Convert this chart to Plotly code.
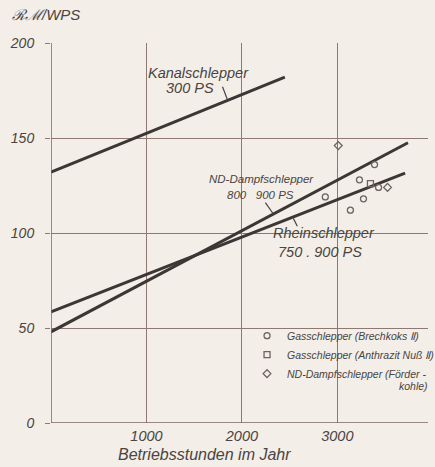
import plotly.graph_objects as go

# Operating hours per year (x) vs. cost in RM per WPS (y)
kanal_x = [0, 2450]
kanal_y = [132, 182]
nd_x = [0, 3740]
nd_y = [48, 147.5]
rhein_x = [0, 3710]
rhein_y = [58.5, 131.5]

brechkoks_x = [3390, 3232, 3432, 2874, 3274, 3137]
brechkoks_y = [136, 128, 124, 119, 118, 112]
anthrazit_x = [3347]
anthrazit_y = [126]
foerderkohle_x = [3010, 3526]
foerderkohle_y = [146, 124]

x_ticks = [1000, 2000, 3000]
y_ticks = [0, 50, 100, 150, 200]

BG = "#f3eee7"
INK = "#3b3735"
GRID = "#8f7873"
TXT = "#4a4442"
MARK = "#6c6461"
FONT = "Liberation Sans, Arial, sans-serif"
LEG_SIZE = 10.5

fig = go.Figure()

for xs, ys in [(kanal_x, kanal_y), (nd_x, nd_y), (rhein_x, rhein_y)]:
    fig.add_trace(go.Scatter(x=xs, y=ys, mode="lines", showlegend=False,
                             line=dict(color=INK, width=3), hoverinfo="skip"))

fig.add_trace(go.Scatter(
    x=brechkoks_x, y=brechkoks_y, mode="markers",
    name="Gasschlepper (Brechkoks Ⅱ)",
    marker=dict(symbol="circle-open", size=6, color=MARK, line=dict(width=1.3, color=MARK))))
fig.add_trace(go.Scatter(
    x=anthrazit_x, y=anthrazit_y, mode="markers",
    name="Gasschlepper (Anthrazit Nuß Ⅱ)",
    marker=dict(symbol="square-open", size=6, color=MARK, line=dict(width=1.3, color=MARK))))
fig.add_trace(go.Scatter(
    x=foerderkohle_x, y=foerderkohle_y, mode="markers",
    name="ND-Dampfschlepper (Förder -",
    marker=dict(symbol="diamond-open", size=6, color=MARK, line=dict(width=1.3, color=MARK))))

# continuation line of the last legend entry, set flush right
fig.add_annotation(x=1.005, y=0.097, xref="paper", yref="paper", text="kohle)",
                   showarrow=False, xanchor="right", yanchor="middle",
                   font=dict(family=FONT, size=LEG_SIZE, color=TXT, style="italic"))

# Line labels with their short leader strokes
labels = [
    ("Kanalschlepper", 1550, 184, 14.5),
    ("300 PS", 1460, 176.3, 14.5),
    ("ND-Dampfschlepper", 2203, 128.5, 11.5),
    ("800   900 PS", 2200, 120, 11.5),
    ("Rheinschlepper", 2860, 100, 14.5),
    ("750 . 900 PS", 2820, 90, 14.5),
]
for text, x, y, size in labels:
    fig.add_annotation(x=x, y=y, text=text, showarrow=False, xref="x", yref="y",
                       font=dict(family=FONT, size=size, color=TXT, style="italic"))

leaders = [
    (1797, 177, 1846, 170.5),
    (2246, 116, 2330, 110),
    (2539, 107.7, 2581, 103.5),
]
for x0, y0, x1, y1 in leaders:
    fig.add_shape(type="line", x0=x0, y0=y0, x1=x1, y1=y1, xref="x", yref="y",
                  line=dict(color=TXT, width=1.2))

fig.add_annotation(x=-0.11, y=1.074, xref="paper", yref="paper", text="ℛℳ/WPS",
                   showarrow=False, xanchor="left", yanchor="middle",
                   font=dict(family=FONT, size=15, color=TXT, style="italic"))
fig.add_annotation(x=0.406, y=-0.084, xref="paper", yref="paper",
                   text="Betriebsstunden im Jahr", showarrow=False,
                   xanchor="center", yanchor="middle",
                   font=dict(family=FONT, size=16, color=TXT, style="italic"))

fig.update_layout(
    width=435, height=467,
    margin=dict(l=51, r=7, t=43, b=44, autoexpand=False),
    paper_bgcolor=BG, plot_bgcolor=BG,
    font=dict(family=FONT, color=TXT),
    legend=dict(x=0.52, y=0.268, xanchor="left", yanchor="top",
                bgcolor="rgba(0,0,0,0)", itemwidth=30, tracegroupgap=0,
                font=dict(family=FONT, size=LEG_SIZE, color=TXT, style="italic")),
    xaxis=dict(range=[0, 3950], tickvals=x_ticks, ticks="", showgrid=True,
               gridcolor=GRID, gridwidth=1, zeroline=False, showline=False,
               ticklabelstandoff=2,
               tickfont=dict(family=FONT, size=14.5, color=TXT, style="italic")),
    yaxis=dict(range=[0, 200], tickvals=y_ticks, ticks="outside", ticklen=5,
               tickcolor=GRID, showgrid=True, gridcolor=GRID, gridwidth=1,
               zeroline=False, showline=False, ticklabelstandoff=8,
               tickfont=dict(family=FONT, size=14, color=TXT, style="italic")),
)

# Axis lines drawn along x=0 and y=0
fig.add_shape(type="line", xref="x", yref="paper", x0=0, x1=0, y0=0, y1=1,
              line=dict(color="#7d645f", width=1.5))
fig.add_shape(type="line", xref="paper", yref="y", x0=0, x1=1, y0=0, y1=0,
              line=dict(color="#7d645f", width=1.5))

fig.write_html("out.html")
